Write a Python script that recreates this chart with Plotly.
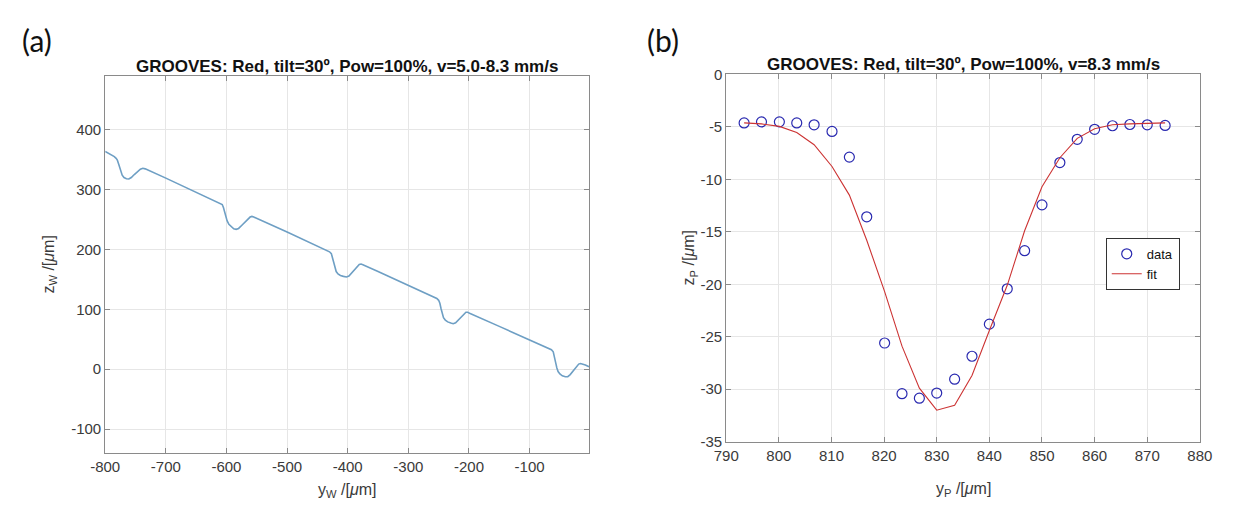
import plotly.graph_objects as go

W, H = 1237, 512

# ---------------- Panel (a) data: surface profile ----------------
yw = [-800, -795, -790, -785, -782, -780, -778, -776, -774, -772, -769, -765, -761,
      -757, -752, -747, -742, -738, -734,
      -700, -650, -615, -610, -607, -605, -603, -601, -599, -596, -592, -588, -584,
      -580, -575, -570, -565, -561, -558, -555,
      -500, -450, -435, -430, -427, -425, -423, -421, -419, -416, -412, -407, -402,
      -398, -393, -388, -384, -381, -378, -375,
      -350, -300, -260, -253, -250, -248, -246, -244, -242, -239, -235, -230, -226,
      -222, -217, -212, -208, -205, -202, -199,
      -150, -100, -70, -64, -61, -59, -57, -55, -53, -50, -46, -41, -37,
      -33, -28, -23, -19, -16, -13, -8, -2]
zw = [363.5, 361, 358, 355, 352, 349, 343, 335, 329, 324, 320, 318, 317.5,
      320, 325, 330, 334, 335.5, 334.5,
      319, 296, 280, 277.5, 275, 270, 262, 254, 248, 242, 237.5, 234.5, 233.5,
      235, 240, 245, 250, 254, 255, 254,
      229, 206, 199, 196, 193, 186, 177, 169, 163, 159, 156.5, 155, 154,
      155.5, 161, 167, 172, 175, 175.5, 174.5,
      163, 140, 122, 118, 115, 110, 101, 92, 86, 82, 79, 77, 76,
      77.5, 83, 88.5, 93, 95, 95, 93.5,
      71.5, 49, 35.5, 32.5, 29, 22, 11, 2, -4, -8, -11, -12.5, -12.5,
      -9, -2, 4, 8.5, 9.5, 9, 7, 4]

# ---------------- Panel (b) data: groove cross-section ----------------
yp_data = [793.4, 796.7, 800.1, 803.4, 806.7, 810.1, 813.4, 816.7, 820.1, 823.4,
           826.7, 830.0, 833.4, 836.7, 840.0, 843.4, 846.7, 850.0, 853.4, 856.7,
           860.0, 863.4, 866.7, 870.0, 873.4]
zp_data = [-4.62, -4.52, -4.52, -4.62, -4.80, -5.43, -7.88, -13.57, -25.6, -30.43,
           -30.86, -30.37, -29.05, -26.86, -23.8, -20.43, -16.8, -12.43, -8.4, -6.18,
           -5.23, -4.89, -4.77, -4.80, -4.86]
zp_fit = [-4.62, -4.71, -4.95, -5.54, -6.70, -8.77, -11.5, -15.8, -20.7, -25.9,
          -29.9, -32.0, -31.54, -28.7, -24.4, -20.1, -14.9, -10.7, -7.94, -6.09,
          -5.17, -4.80, -4.71, -4.65, -4.62]

xticks_a = [-800, -700, -600, -500, -400, -300, -200, -100]
yticks_a = [-100, 0, 100, 200, 300, 400]
xticks_b = [790, 800, 810, 820, 830, 840, 850, 860, 870, 880]
yticks_b = [-35, -30, -25, -20, -15, -10, -5, 0]

title_a = "GROOVES: Red, tilt=30º, Pow=100%, v=5.0-8.3 mm/s"
title_b = "GROOVES: Red, tilt=30º, Pow=100%, v=8.3 mm/s"

FONT = "Liberation Sans"
AX = "#8a8a8a"
TXT = "#3a3a3a"
DARK = "#111111"
GRID = "#e6e6e6"


def px(x):
    return x / W


def py(y):
    return 1 - y / H


# plot-area pixel boxes
ax_a = dict(l=92.3, r=587.3, t=69, b=459.3)
ax_b = dict(l=727.7, r=1212.3, t=67.7, b=447.5)

fig = go.Figure()
fig.add_trace(go.Scatter(x=yw, y=zw, mode="lines", xaxis="x", yaxis="y",
                         line=dict(color="#6e9fc4", width=1.6), showlegend=False))
fig.add_trace(go.Scatter(x=yp_data, y=zp_data, mode="markers", name="data",
                         xaxis="x2", yaxis="y2",
                         marker=dict(symbol="circle-open", size=10,
                                     color="#2a2ab0", line=dict(width=1.2))))
fig.add_trace(go.Scatter(x=yp_data, y=zp_fit, mode="lines", name="fit",
                         xaxis="x2", yaxis="y2",
                         line=dict(color="#cc3333", width=1.1)))


def axis(domain, rng, ticks, anchor):
    return dict(domain=domain, range=rng, tickvals=ticks,
                ticktext=[str(t) for t in ticks], anchor=anchor,
                showline=True, linecolor=AX, linewidth=1, mirror="allticks",
                ticks="inside", ticklen=5, tickcolor=AX, showgrid=True,
                gridcolor=GRID, gridwidth=1, zeroline=False,
                tickfont=dict(size=15, color=TXT))


fig.update_layout(
    width=W, height=H, margin=dict(l=0, r=0, t=0, b=0),
    font=dict(family=FONT, size=16, color=TXT),
    paper_bgcolor="white", plot_bgcolor="white",
    xaxis=axis([px(ax_a["l"]), px(ax_a["r"])], [-800, -2], xticks_a, "y"),
    yaxis=axis([py(ax_a["b"]), py(ax_a["t"])], [-140, 490], yticks_a, "x"),
    xaxis2=axis([px(ax_b["l"]), px(ax_b["r"])], [790, 880], xticks_b, "y2"),
    yaxis2=axis([py(ax_b["b"]), py(ax_b["t"])], [-35, 0], yticks_b, "x2"),
    legend=dict(x=px(1116), y=py(236.7), xanchor="left", yanchor="top",
                bgcolor="white", bordercolor="#333333", borderwidth=1,
                font=dict(size=13, color=DARK),
                tracegroupgap=0, itemwidth=30),
)

ann = []
# panel labels
ann.append(dict(text="(a)", x=px(5), y=py(32), xanchor="left", yanchor="middle",
                font=dict(family="Lato", size=30, color=DARK)))
ann.append(dict(text="(b)", x=px(645), y=py(32), xanchor="left", yanchor="middle",
                font=dict(family="Lato", size=30, color=DARK)))
# titles
ann.append(dict(text="<b>" + title_a + "</b>", x=px((ax_a["l"] + ax_a["r"]) / 2), y=py(59.5),
                xanchor="center", yanchor="middle",
                font=dict(size=17, color=DARK)))
ann.append(dict(text="<b>" + title_b + "</b>", x=px((ax_b["l"] + ax_b["r"]) / 2), y=py(57.5),
                xanchor="center", yanchor="middle",
                font=dict(size=17, color=DARK)))
# axis titles
ann.append(dict(text="y<sub>W</sub> /[<i>μ</i>m]", x=px((ax_a["l"] + ax_a["r"]) / 2), y=py(498),
                xanchor="center", yanchor="middle"))
ann.append(dict(text="y<sub>P</sub> /[<i>μ</i>m]", x=px((ax_b["l"] + ax_b["r"]) / 2), y=py(497),
                xanchor="center", yanchor="middle"))
ann.append(dict(text="z<sub>W</sub> /[<i>μ</i>m]", x=px(35), y=py((ax_a["t"] + ax_a["b"]) / 2),
                xanchor="center", yanchor="middle", textangle=-90))
ann.append(dict(text="z<sub>P</sub> /[<i>μ</i>m]", x=px(690), y=py((ax_b["t"] + ax_b["b"]) / 2),
                xanchor="center", yanchor="middle", textangle=-90))
for a in ann:
    a.update(xref="paper", yref="paper", showarrow=False)
fig.update_layout(annotations=ann)

fig.write_html("out.html", config={"displayModeBar": False},
               post_script="document.body.style.margin='0';document.body.style.overflow='hidden';")
